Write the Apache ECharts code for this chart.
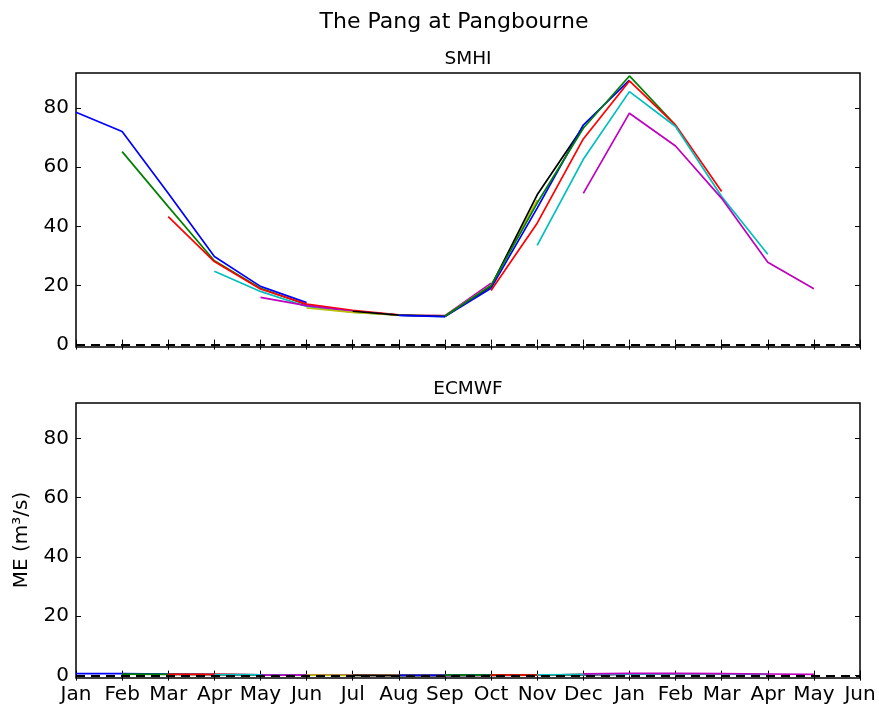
<!DOCTYPE html>
<html>
<head>
<meta charset="utf-8">
<script src="https://cdn.jsdelivr.net/npm/echarts@6/dist/echarts.min.js"></script>
<style>
  html, body { margin: 0; padding: 0; background: #fff; }
  #chart { width: 879px; height: 711px; }
</style>
</head>
<body>
<div id="chart"></div>
<script>
// Month axis: an 18-month window, January to the following June
const months = ['Jan','Feb','Mar','Apr','May','Jun','Jul','Aug','Sep','Oct','Nov','Dec',
                'Jan','Feb','Mar','Apr','May','Jun'];
const yTicks = [0, 20, 40, 60, 80];

// Index of the month each forecast run starts in
const runStarts = [0, 1, 2, 3, 4, 5, 6, 7, 8, 9, 10, 11];

// SMHI monthly mean error, one array per forecast start month (6 lead months each)
const smhiJan = [78.6, 72.1, 51.2, 29.8, 19.7, 14.2];
const smhiFeb = [65.3, 46.7, 28.4, 19.1, 13.5, 11.3];
const smhiMar = [43.3, 28.1, 18.8, 13.7, 11.6, 10.1];
const smhiApr = [24.8, 18.0, 12.9, 11.0, 10.0, 9.5];
const smhiMay = [16.0, 13.2, 11.3, 10.0, 9.8, 20.8];
const smhiJun = [12.4, 10.9, 10.0, 9.7, 20.0, 49.0];
const smhiJul = [11.3, 10.0, 9.6, 19.7, 50.7, 73.8];
const smhiAug = [9.9, 9.5, 19.1, 46.2, 74.3, 89.5];
const smhiSep = [9.6, 20.0, 47.9, 73.2, 90.9, 74.3];
const smhiOct = [18.3, 41.1, 69.6, 89.2, 74.3, 51.8];
const smhiNov = [33.6, 62.7, 85.6, 73.8, 50.1, 30.6];
const smhiDec = [51.2, 78.3, 67.2, 49.5, 27.9, 18.9];

// ECMWF monthly mean error, same layout
const ecmwfJan = [0.65, 0.7, 0.55, 0.4, 0.3, 0.25];
const ecmwfFeb = [0.5, 0.45, 0.35, 0.3, 0.2, 0.15];
const ecmwfMar = [0.45, 0.4, 0.3, 0.2, 0.15, 0.1];
const ecmwfApr = [0.3, 0.25, 0.2, 0.15, 0.1, 0.1];
const ecmwfMay = [0.2, 0.2, 0.15, 0.1, 0.1, 0.15];
const ecmwfJun = [0.15, 0.1, 0.1, 0.1, 0.15, 0.2];
const ecmwfJul = [0.1, 0.05, 0.05, 0.1, 0.15, 0.3];
const ecmwfAug = [0.1, 0.1, 0.15, 0.2, 0.35, 0.5];
const ecmwfSep = [0.15, 0.15, 0.2, 0.35, 0.5, 0.6];
const ecmwfOct = [0.2, 0.2, 0.35, 0.5, 0.6, 0.55];
const ecmwfNov = [0.25, 0.35, 0.5, 0.6, 0.55, 0.45];
const ecmwfDec = [0.6, 0.75, 0.8, 0.7, 0.55, 0.4];

const smhiRuns = [smhiJan, smhiFeb, smhiMar, smhiApr, smhiMay, smhiJun,
                  smhiJul, smhiAug, smhiSep, smhiOct, smhiNov, smhiDec];
const ecmwfRuns = [ecmwfJan, ecmwfFeb, ecmwfMar, ecmwfApr, ecmwfMay, ecmwfJun,
                   ecmwfJul, ecmwfAug, ecmwfSep, ecmwfOct, ecmwfNov, ecmwfDec];

// Classic colour cycle: b, g, r, c, m, y, k
const cycle = ['#0000ff', '#008000', '#ff0000', '#00bfbf', '#bf00bf', '#bfbf00', '#000000'];

const FONT = 'DejaVu Sans';
const Y_MIN = -0.8, Y_MAX = 91.9;

function xAxisPair(gridIndex, showLabels) {
  const base = {
    type: 'category', data: months, boundaryGap: false, gridIndex: gridIndex,
    axisLine: { show: false },
    splitLine: { show: false },
    axisTick: { show: true, inside: true, length: 5, interval: 0, lineStyle: { color: '#000', width: 1 } }
  };
  return [
    Object.assign({}, base, {
      position: 'bottom',
      axisLabel: { show: showLabels, interval: 0, margin: 7, color: '#000', fontSize: 20, fontFamily: FONT }
    }),
    Object.assign({}, base, { position: 'top', axisLabel: { show: false } })
  ];
}

function yAxisPair(gridIndex) {
  const base = {
    type: 'value', min: Y_MIN, max: Y_MAX, gridIndex: gridIndex,
    axisLine: { show: false },
    splitLine: { show: false },
    axisTick: { show: true, inside: true, length: 5, customValues: yTicks, lineStyle: { color: '#000', width: 1 } }
  };
  return [
    Object.assign({}, base, {
      position: 'left',
      axisLabel: { show: true, customValues: yTicks, margin: 7, color: '#000', fontSize: 20, fontFamily: FONT }
    }),
    Object.assign({}, base, { position: 'right', axisLabel: { show: false } })
  ];
}

// One line per forecast run; axis pairs are 0/1 for the top grid and 2/3 for the bottom one
function runSeries(runs, axisIdx) {
  return runs.map((vals, k) => ({
    type: 'line',
    xAxisIndex: axisIdx, yAxisIndex: axisIdx,
    data: vals.map((v, i) => [runStarts[k] + i, v]),
    symbol: 'none',
    lineStyle: { color: cycle[k % cycle.length], width: 1.7 },
    z: 2
  }));
}

function zeroLine(axisIdx) {
  return {
    type: 'line', xAxisIndex: axisIdx, yAxisIndex: axisIdx, data: [], z: 3,
    markLine: {
      silent: true, symbol: 'none', label: { show: false },
      lineStyle: { color: '#000', width: 2, type: [9, 6] },
      data: [{ yAxis: 0 }]
    }
  };
}

const gridBox = { show: true, borderColor: '#000', borderWidth: 1.5, left: 76, right: 19 };

const option = {
  animation: false,
  backgroundColor: '#fff',
  grid: [
    Object.assign({ top: 73, height: 274 }, gridBox),
    Object.assign({ top: 403, height: 275 }, gridBox)
  ],
  xAxis: [].concat(xAxisPair(0, false), xAxisPair(1, true)),
  yAxis: [].concat(yAxisPair(0), yAxisPair(1)),
  series: [].concat(
    runSeries(smhiRuns, 0), [zeroLine(0)],
    runSeries(ecmwfRuns, 2), [zeroLine(2)]
  ),
  graphic: [
    { type: 'text', x: 454, y: 22, style: { text: 'The Pang at Pangbourne', font: '22px "DejaVu Sans"', fill: '#000', textAlign: 'center', textVerticalAlign: 'middle' } },
    { type: 'text', x: 468, y: 59, style: { text: 'SMHI', font: '18.5px "DejaVu Sans"', fill: '#000', textAlign: 'center', textVerticalAlign: 'middle' } },
    { type: 'text', x: 468, y: 389, style: { text: 'ECMWF', font: '18.5px "DejaVu Sans"', fill: '#000', textAlign: 'center', textVerticalAlign: 'middle' } },
    { type: 'text', x: 22, y: 540, rotation: Math.PI / 2, style: { text: 'ME (m³/s)', font: '20px "DejaVu Sans"', fill: '#000', textAlign: 'center', textVerticalAlign: 'middle' } }
  ]
};

const chart = echarts.init(document.getElementById('chart'), null, { renderer: 'canvas' });
chart.setOption(option);
</script>
</body>
</html>
